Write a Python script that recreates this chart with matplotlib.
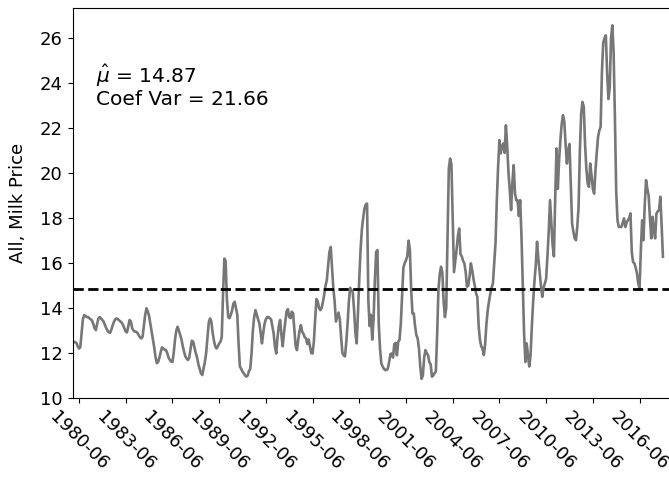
import numpy as np
import pandas as pd
import matplotlib
matplotlib.use("Agg")
import matplotlib.pyplot as plt

# Monthly all-milk price, one row per year (1980-01 .. 2017-12)
price_1980s = [
    12.43, 12.50, 12.48, 12.45, 12.30, 12.20, 12.25, 12.90, 13.50, 13.69, 13.65, 13.60,  # 1980
    13.60, 13.55, 13.50, 13.45, 13.30, 13.10, 13.02, 13.30, 13.54, 13.60, 13.54, 13.47,  # 1981
    13.40, 13.25, 13.10, 13.00, 12.92, 12.90, 13.05, 13.24, 13.40, 13.50, 13.54, 13.50,  # 1982
    13.45, 13.40, 13.35, 13.24, 13.10, 12.95, 12.92, 13.20, 13.47, 13.40, 13.10, 13.00,  # 1983
    12.95, 12.95, 12.90, 12.80, 12.70, 12.65, 12.72, 13.20, 13.70, 13.99, 13.85, 13.65,  # 1984
    13.30, 12.95, 12.60, 12.25, 11.80, 11.55, 11.60, 11.80, 12.05, 12.25, 12.20, 12.15,  # 1985
    12.13, 12.00, 11.80, 11.70, 11.62, 11.60, 12.00, 12.60, 13.00, 13.17, 13.00, 12.80,  # 1986
    12.60, 12.30, 12.05, 11.85, 11.75, 11.69, 11.80, 12.20, 12.55, 12.50, 12.25, 12.00,  # 1987
    11.80, 11.50, 11.30, 11.10, 11.02, 11.30, 11.60, 12.00, 12.70, 13.35, 13.54, 13.40,  # 1988
    12.90, 12.55, 12.30, 12.20, 12.30, 12.42, 12.50, 12.70, 14.60, 16.20, 16.10, 14.40,  # 1989
]
price_1990s = [
    13.60, 13.55, 13.70, 13.90, 14.20, 14.28, 14.00, 13.70, 12.40, 11.40, 11.30, 11.17,  # 1990
    11.10, 11.00, 10.95, 11.00, 11.20, 11.30, 12.00, 13.00, 13.60, 13.91, 13.70, 13.50,  # 1991
    13.32, 12.90, 12.43, 12.90, 13.30, 13.50, 13.60, 13.60, 13.55, 13.50, 13.20, 12.87,  # 1992
    12.30, 11.98, 12.70, 13.20, 13.47, 12.80, 12.30, 12.90, 13.40, 13.85, 13.95, 13.60,  # 1993
    13.55, 13.84, 13.76, 13.00, 12.30, 12.13, 12.60, 13.00, 13.24, 12.95, 12.85, 12.70,  # 1994
    12.65, 12.40, 12.60, 12.30, 12.00, 11.98, 12.50, 13.50, 14.40, 14.30, 14.00, 13.91,  # 1995
    14.00, 14.28, 14.60, 15.00, 15.24, 15.90, 16.50, 16.72, 15.80, 14.90, 14.30, 13.40,  # 1996
    13.60, 13.80, 13.50, 12.70, 12.00, 11.90, 11.85, 12.50, 13.32, 14.30, 14.90, 14.80,  # 1997
    14.70, 13.90, 12.90, 12.43, 13.80, 15.30, 16.60, 17.50, 18.00, 18.43, 18.60, 18.65,  # 1998
    14.30, 13.20, 13.70, 12.60, 13.50, 15.20, 16.50, 16.58, 13.30, 12.20, 11.54, 11.40,  # 1999
]
price_2000s = [
    11.30, 11.24, 11.25, 11.30, 11.60, 11.95, 11.98, 11.80, 12.40, 12.45, 11.90, 12.50,  # 2000
    12.58, 13.30, 14.50, 15.80, 16.00, 16.13, 16.30, 17.00, 16.60, 14.80, 13.76, 13.76,  # 2001
    13.20, 12.80, 12.65, 12.20, 11.40, 10.85, 11.00, 11.80, 12.13, 12.00, 11.90, 11.60,  # 2002
    11.50, 10.95, 11.00, 11.10, 11.17, 12.80, 14.80, 15.50, 15.84, 15.60, 14.30, 13.60,  # 2003
    14.00, 17.00, 20.20, 20.65, 20.40, 18.00, 15.60, 16.10, 16.60, 17.20, 17.54, 16.40,  # 2004
    16.30, 16.10, 15.99, 15.60, 14.95, 15.00, 15.40, 15.99, 15.70, 15.30, 15.00, 14.65,  # 2005
    14.50, 13.20, 12.58, 12.30, 12.20, 11.91, 12.40, 13.30, 13.91, 14.30, 14.65, 14.90,  # 2006
    15.10, 16.00, 16.90, 18.80, 20.30, 21.47, 20.88, 21.20, 21.32, 20.90, 22.13, 21.20,  # 2007
    20.00, 19.24, 18.36, 19.60, 20.36, 19.10, 18.80, 18.80, 18.10, 18.80, 17.20, 15.00,  # 2008
    12.90, 11.60, 12.43, 11.90, 11.40, 11.90, 13.20, 14.30, 15.20, 15.90, 16.95, 16.20,  # 2009
]
price_2010s = [
    15.60, 15.00, 14.50, 14.90, 15.10, 15.30, 16.30, 17.40, 18.80, 17.80, 16.80, 16.30,  # 2010
    18.90, 21.10, 19.30, 20.60, 21.47, 22.20, 22.58, 22.30, 21.30, 20.43, 21.00, 21.30,  # 2011
    19.50, 17.76, 17.40, 17.10, 17.02, 17.61, 18.50, 21.00, 22.65, 23.17, 22.95, 21.30,  # 2012
    20.20, 19.54, 19.39, 20.43, 19.90, 19.30, 19.09, 20.10, 20.90, 21.61, 21.90, 22.06,  # 2013
    24.50, 25.80, 26.00, 26.13, 24.50, 23.30, 23.80, 26.00, 26.58, 25.40, 22.50, 19.20,  # 2014
    17.90, 17.61, 17.61, 17.61, 17.80, 17.99, 17.61, 17.80, 17.91, 18.00, 18.21, 16.50,  # 2015
    16.05, 15.99, 15.80, 15.54, 15.10, 14.87, 16.60, 17.90, 17.02, 18.60, 19.69, 19.30,  # 2016
    19.00, 18.00, 17.10, 18.06, 17.50, 17.10, 18.20, 18.30, 18.36, 18.95, 17.70, 16.28,  # 2017
]

mean_price = 14.87
coef_var = 21.66
y_label = "All, Milk Price"

prices = np.array(price_1980s + price_1990s + price_2000s + price_2010s)
months = pd.period_range("1980-01", periods=len(prices), freq="M")
x = np.arange(len(prices))

# label every third June
tick_pos = [i for i, p in enumerate(months) if p.month == 6 and (p.year - 1980) % 3 == 0]
tick_lab = [str(months[i]) for i in tick_pos]

fig = plt.figure(figsize=(6.69, 4.78), dpi=100)
ax = fig.add_axes([72.5 / 669, 80 / 478, 599.5 / 669, 390.5 / 478])

ax.plot(x, prices, color="#777777", lw=1.9)
ax.axhline(mean_price, color="black", lw=2, ls="--")

ax.set_xlim(0, 462)
ax.set_ylim(10.0, 27.37)
ax.set_yticks(np.arange(10, 27, 2))
ax.set_xticks(tick_pos)
ax.set_xticklabels(tick_lab, rotation=-45)
ax.tick_params(labelsize=13)
ax.set_ylabel(y_label, fontsize=13, labelpad=9)

ax.text(0.04, 0.857, "$\\hat{\\mu}$ = %.2f\nCoef Var = %.2f" % (mean_price, coef_var),
        transform=ax.transAxes, fontsize=14.5, va="top", ha="left", linespacing=1.05)

fig.savefig("out.png", dpi=100)
